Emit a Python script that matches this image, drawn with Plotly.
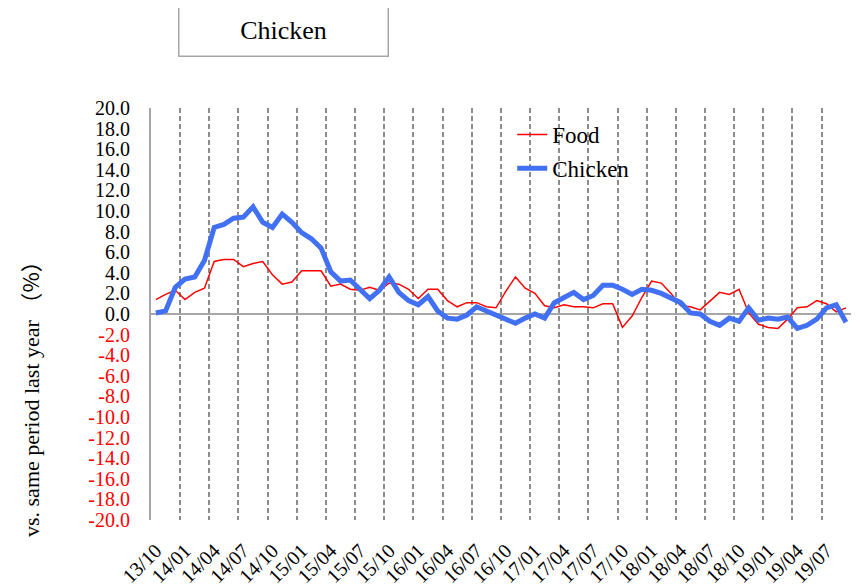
import pandas as pd
import plotly.graph_objects as go

# monthly categories 13/10 .. 19/09
months = list(pd.date_range("2013-10-01", periods=72, freq="MS").strftime("%y/%m"))

# year-on-year change (%)
food = [1.4, 1.9, 2.3, 1.4, 2.1, 2.5, 5.1, 5.3, 5.3, 4.6, 4.9, 5.1,
        3.8, 2.9, 3.1, 4.2, 4.2, 4.2, 2.7, 2.9, 2.4, 2.3, 2.6, 2.3,
        3.0, 2.9, 2.4, 1.5, 2.4, 2.4, 1.3, 0.7, 1.1, 1.1, 0.7, 0.6,
        2.2, 3.6, 2.5, 2.0, 0.8, 0.6, 0.9, 0.7, 0.7, 0.6, 1.0, 1.0,
        -1.3, -0.2, 1.6, 3.2, 3.0, 2.0, 0.8, 0.7, 0.4, 1.3, 2.1, 1.9,
        2.4, 0.1, -1.0, -1.3, -1.4, -0.5, 0.6, 0.7, 1.3, 1.0, 0.2, 0.6]

chicken = [0.1, 0.3, 2.6, 3.4, 3.6, 5.2, 8.4, 8.7, 9.3, 9.4, 10.4, 8.9,
           8.4, 9.7, 8.9, 7.9, 7.3, 6.4, 4.1, 3.2, 3.3, 2.4, 1.5, 2.3,
           3.6, 2.1, 1.3, 0.9, 1.7, 0.3, -0.4, -0.5, -0.1, 0.7, 0.3, -0.1,
           -0.4, -0.9, -0.4, 0.0, -0.4, 1.1, 1.6, 2.1, 1.4, 1.8, 2.8, 2.8,
           2.4, 1.9, 2.4, 2.3, 2.0, 1.5, 1.1, 0.1, 0.0, -0.7, -1.1, -0.4,
           -0.7, 0.6, -0.6, -0.4, -0.5, -0.3, -1.4, -1.1, -0.5, 0.6, 0.9, -0.8]

y_ticks = list(range(-20, 21, 2))

serif = "Liberation Serif"
idx = list(range(len(months)))

fig = go.Figure()
fig.add_trace(go.Scatter(x=idx, y=food, name="Food", mode="lines",
                         line=dict(color="#FF0000", width=1.5),
                         legendgroup="a"))
fig.add_trace(go.Scatter(x=idx, y=chicken, name="Chicken", mode="lines",
                         line=dict(color="#4170F2", width=5),
                         legendgroup="b"))

# y tick labels: negatives in red
y_text = []
for v in y_ticks:
    s = f"{v:.1f}"
    if v < 0:
        s = f"<span style='color:#FF0000'>{s}</span>"
    y_text.append(s)

y_title = ("vs. same period last year "
           "<span style='font-family:Noto Sans CJK JP'>（%）</span>")

# page body adds an 8px offset, so the figure is 8px smaller than the window
fig.update_layout(
    width=852, height=579,
    margin=dict(l=143, r=9, t=100, b=67),
    paper_bgcolor="white", plot_bgcolor="white",
    font=dict(family=serif, size=20, color="black"),
    showlegend=True,
    legend=dict(x=0.516, y=0.988, xanchor="left", yanchor="top",
                bgcolor="rgba(0,0,0,0)", tracegroupgap=1,
                font=dict(family=serif, size=23)),
    xaxis=dict(
        range=[-0.5, 71.52],
        automargin=False,
        tickmode="array",
        tickvals=idx[::3],
        ticktext=months[::3],
        tickangle=-45,
        ticks="",
        ticklabelstandoff=14,
        tickfont=dict(size=20),
        showgrid=False,
        zeroline=False,
        showline=False,
        minor=dict(tick0=2.5, dtick=3, showgrid=True, ticks="",
                   gridcolor="#8C8C8C", gridwidth=1.5, griddash="5px,3px"),
    ),
    yaxis=dict(
        range=[-20, 20],
        automargin=False,
        tickmode="array",
        tickvals=y_ticks,
        ticktext=y_text,
        ticks="",
        ticklabelstandoff=15,
        tickfont=dict(size=20),
        showgrid=False,
        zeroline=True, zerolinecolor="#A6A6A6", zerolinewidth=2,
        showline=True, linecolor="#A6A6A6", linewidth=2,
    ),
    annotations=[
        dict(text="Chicken", xref="paper", yref="paper",
             x=(283 - 151) / 700, y=(520 - 30) / 412,
             xanchor="center", yanchor="middle", showarrow=False,
             width=206, height=48, bordercolor="#A6A6A6", borderwidth=1.5,
             font=dict(family=serif, size=26)),
        dict(text=y_title, xref="paper", yref="paper",
             x=(29 - 151) / 700, y=(520 - 394) / 412,
             xanchor="center", yanchor="middle", showarrow=False,
             textangle=-90, font=dict(family=serif, size=22)),
    ],
)

fig.write_html("out.html")
